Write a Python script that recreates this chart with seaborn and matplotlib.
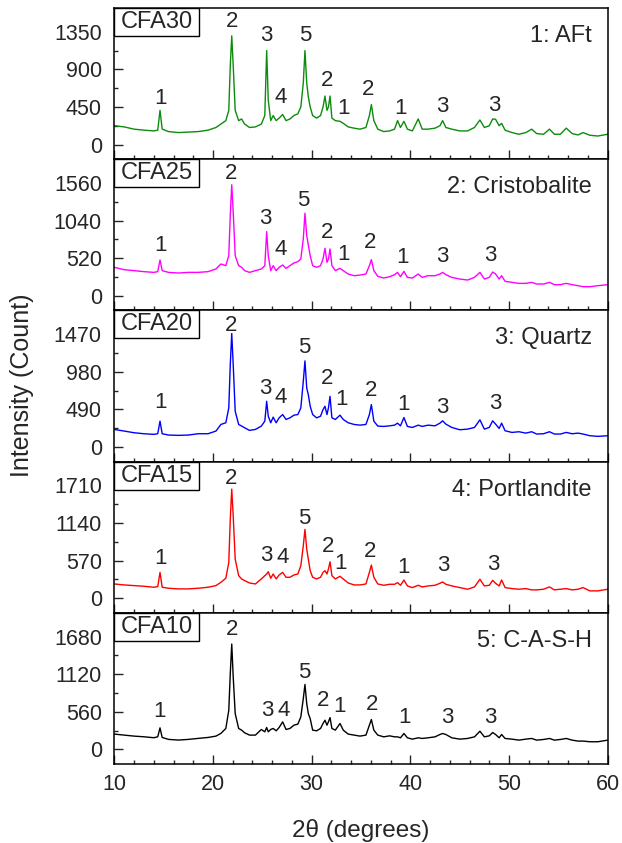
import matplotlib
matplotlib.use("Agg")
import matplotlib.pyplot as plt
import matplotlib.patches as mpatches
from matplotlib.ticker import MultipleLocator
import pandas as pd
import seaborn as sns

sns.set_style("ticks")
plt.rcParams["font.family"] = ["Liberation Sans", "DejaVu Sans"]

# ---------------- data ----------------
two_theta = [10, 11, 12, 13, 14, 14.4, 14.63, 14.85, 15.5, 16.5,
             17.5, 18.5, 19.5, 20.3, 20.8, 21.3, 21.6, 21.75, 21.9, 22.05,
             22.25, 22.6, 22.9, 23.2, 23.7, 24.3, 24.9, 25.25, 25.44, 25.6,
             25.85, 26.1, 26.4, 26.7, 27.06, 27.4, 27.8, 28.2, 28.6, 28.9,
             29.15, 29.32, 29.5, 29.66, 29.85, 30.1, 30.5, 30.9, 31.15, 31.35,
             31.55, 31.7, 31.86, 32.05, 32.4, 32.87, 33.2, 33.7, 34.3, 34.9,
             35.5, 35.85, 36.05, 36.3, 36.7, 37.3, 37.9, 38.4, 38.7, 39.0,
             39.35, 39.7, 40.2, 40.8, 41.2, 41.8, 42.5, 43.0, 43.27, 43.6,
             44.2, 45.0, 45.8, 46.5, 47.05, 47.5, 48.0, 48.34, 48.64, 49.0,
             49.25, 49.6, 50.3, 51.0, 51.7, 52.3, 52.8, 53.5, 54.1, 54.6,
             55.2, 55.8, 56.4, 57.0, 57.5, 58.2, 59.0, 60.0]

cfa30 = [225, 211, 184, 172, 163, 172, 409, 184, 155, 143,
         149, 155, 172, 204, 245, 286, 409, 940, 1300, 940,
         409, 286, 306, 245, 204, 211, 245, 347, 1124, 531,
         286, 347, 286, 316, 359, 286, 306, 347, 368, 449,
         736, 1124, 736, 572, 449, 347, 316, 347, 449, 580,
         409, 449, 580, 316, 286, 278, 254, 211, 196, 184,
         204, 347, 478, 286, 184, 155, 163, 184, 286, 204,
         278, 184, 163, 306, 184, 184, 196, 225, 286, 204,
         184, 163, 163, 204, 294, 204, 225, 306, 302, 225,
         254, 172, 143, 123, 143, 184, 131, 123, 184, 123,
         123, 196, 131, 115, 143, 111, 102, 123]

cfa25 = [393, 360, 347, 333, 323, 333, 494, 347, 323, 314,
         323, 323, 333, 370, 439, 416, 554, 1109, 1534, 1155,
         554, 416, 393, 347, 323, 347, 370, 416, 887, 554,
         347, 416, 347, 393, 425, 379, 416, 453, 471, 508,
         785, 1141, 832, 702, 554, 416, 393, 416, 508, 656,
         462, 508, 647, 416, 347, 379, 347, 300, 277, 286,
         300, 416, 499, 347, 268, 245, 263, 291, 323, 263,
         337, 254, 245, 300, 254, 277, 277, 300, 323, 291,
         254, 231, 217, 254, 323, 231, 254, 328, 300, 231,
         277, 199, 185, 171, 171, 185, 162, 162, 185, 153,
         153, 171, 153, 139, 125, 125, 139, 153]

cfa20 = [228, 207, 185, 172, 164, 172, 336, 172, 155, 151,
         155, 172, 172, 207, 293, 315, 509, 1069, 1478, 1069,
         465, 293, 272, 250, 216, 228, 272, 336, 595, 401,
         315, 388, 315, 379, 422, 358, 379, 414, 422, 509,
         853, 1121, 767, 681, 530, 422, 379, 401, 487, 530,
         422, 509, 659, 379, 358, 414, 358, 315, 293, 284,
         293, 422, 552, 336, 272, 267, 275, 284, 310, 275,
         383, 267, 254, 284, 267, 284, 275, 310, 340, 297,
         254, 224, 232, 254, 353, 232, 254, 340, 297, 241,
         310, 211, 189, 198, 180, 198, 168, 172, 198, 168,
         168, 189, 172, 180, 168, 146, 138, 146]

cfa15 = [215, 200, 190, 180, 165, 175, 391, 165, 150, 140,
         140, 150, 165, 190, 240, 301, 541, 1192, 1653, 1242,
         591, 341, 291, 266, 230, 215, 291, 341, 366, 401,
         301, 366, 291, 351, 391, 316, 316, 351, 366, 491,
         792, 1042, 741, 591, 416, 316, 291, 316, 391, 416,
         366, 441, 551, 341, 291, 331, 291, 230, 200, 200,
         215, 391, 501, 316, 215, 195, 210, 210, 235, 195,
         275, 185, 160, 195, 170, 185, 195, 225, 245, 210,
         185, 160, 135, 170, 286, 185, 195, 270, 225, 185,
         275, 160, 145, 135, 145, 125, 125, 135, 170, 125,
         135, 145, 125, 135, 160, 110, 110, 135]

cfa10 = [227, 212, 197, 187, 173, 187, 320, 177, 148, 138,
         148, 163, 177, 197, 237, 311, 582, 1124, 1568, 1075,
         532, 311, 286, 247, 212, 212, 296, 261, 325, 261,
         296, 311, 276, 325, 409, 296, 311, 360, 375, 483,
         754, 966, 680, 532, 458, 286, 276, 311, 385, 434,
         360, 409, 473, 311, 286, 385, 286, 227, 212, 197,
         212, 360, 444, 286, 212, 186, 201, 186, 186, 172,
         236, 172, 152, 172, 162, 172, 186, 221, 236, 221,
         172, 152, 162, 186, 270, 186, 201, 250, 221, 172,
         221, 162, 152, 137, 152, 162, 137, 147, 162, 137,
         147, 162, 137, 123, 123, 113, 113, 137]

samples = ["CFA30", "CFA25", "CFA20", "CFA15", "CFA10"]
intensities = [cfa30, cfa25, cfa20, cfa15, cfa10]
y_tick_steps = [450, 520, 490, 570, 560]
phase_names = ["1: AFt", "2: Cristobalite", "3: Quartz", "4: Portlandite", "5: C-A-S-H"]

peak_label_text = ["1", "2", "3", "4", "5", "2", "1", "2", "1", "3", "3"]
peak_label_x = [
    [14.63, 21.9, 25.4, 26.86, 29.32, 31.6, 33.2, 35.73, 39.05, 43.27, 48.47],
    [14.63, 21.85, 25.3, 26.9, 29.1, 31.6, 33.2, 35.9, 39.2, 43.2, 48.1],
    [14.63, 21.8, 25.3, 26.9, 29.2, 31.6, 33.0, 36.05, 39.3, 43.27, 48.57],
    [14.7, 21.85, 25.4, 27.05, 29.2, 31.65, 32.9, 35.9, 39.35, 43.3, 48.4],
    [14.6, 21.9, 25.5, 27.2, 29.2, 31.2, 32.8, 36.1, 39.45, 43.7, 48.1],
]
peak_label_y = [
    [552, 1472, 1300, 564, 1300, 768, 429, 663, 429, 458, 470],
    [693, 1688, 1073, 633, 1318, 869, 564, 731, 523, 541, 555],
    [573, 1586, 767, 647, 1293, 896, 616, 737, 556, 512, 569],
    [601, 1819, 641, 616, 1202, 782, 531, 700, 461, 496, 511],
    [557, 1790, 582, 582, 1149, 720, 631, 675, 467, 467, 478],
]

colors = ["#0c8c0c", "#ff00ff", "#0000ff", "#ff0000", "#000000"]

# ---------------- figure ----------------
fig = plt.figure(figsize=(6.22, 8.43), dpi=100)
axes = fig.subplots(5, 1, sharex=True)
fig.subplots_adjust(left=0.1838, right=0.977, top=0.9905, bottom=0.0937, hspace=0)

for i, ax in enumerate(axes):
    df = pd.DataFrame({"two_theta": two_theta, "intensity": intensities[i]})
    sns.lineplot(data=df, x="two_theta", y="intensity", ax=ax, color=colors[i],
                 lw=1.0, estimator=None, sort=False)
    step = y_tick_steps[i]
    ax.set_xlim(10, 60)
    ax.set_ylim(-0.13 * 3 * step, 1.21 * 3 * step)
    ax.set_yticks([0, step, 2 * step, 3 * step])
    ax.yaxis.set_minor_locator(MultipleLocator(step / 2))
    ax.xaxis.set_major_locator(MultipleLocator(10))
    ax.xaxis.set_minor_locator(MultipleLocator(2))
    ax.tick_params(axis="both", which="major", direction="in", length=6.5, width=1.0,
                   labelsize=15.5, top=False, right=False)
    ax.tick_params(axis="both", which="minor", direction="in", length=3.2, width=1.0,
                   top=False, right=False)
    ax.tick_params(axis="y", which="major", pad=9)
    ax.tick_params(axis="x", which="major", pad=7)
    ax.set_xlabel("")
    ax.set_ylabel("")
    for sp in ax.spines.values():
        sp.set_linewidth(1.1)
        sp.set_color("black")

    # sample box at upper left
    bw, bh = 0.172, 0.185
    ax.add_patch(mpatches.Rectangle((0, 1 - bh), bw, bh, transform=ax.transAxes,
                                    fc="white", ec="black", lw=1.0, zorder=5))
    ax.text(bw / 2, 1 - bh / 2, samples[i], transform=ax.transAxes, ha="center",
            va="center", fontsize=17, zorder=6)

    # phase legend text at upper right
    ax.text(0.968, 0.815, phase_names[i], transform=ax.transAxes, ha="right",
            va="center", fontsize=17)

    # peak labels
    for t, lx, ly in zip(peak_label_text, peak_label_x[i], peak_label_y[i]):
        ax.text(lx, ly, t, ha="center", va="center", fontsize=16)

fig.text(22 / 622, 1 - 385 / 843, "Intensity (Count)", rotation=90, ha="center",
         va="center", fontsize=18)
fig.text(361 / 622, 1 - 830 / 843, "2θ (degrees)", ha="center", va="center",
         fontsize=17.5)

fig.savefig("out.png", dpi=100)
